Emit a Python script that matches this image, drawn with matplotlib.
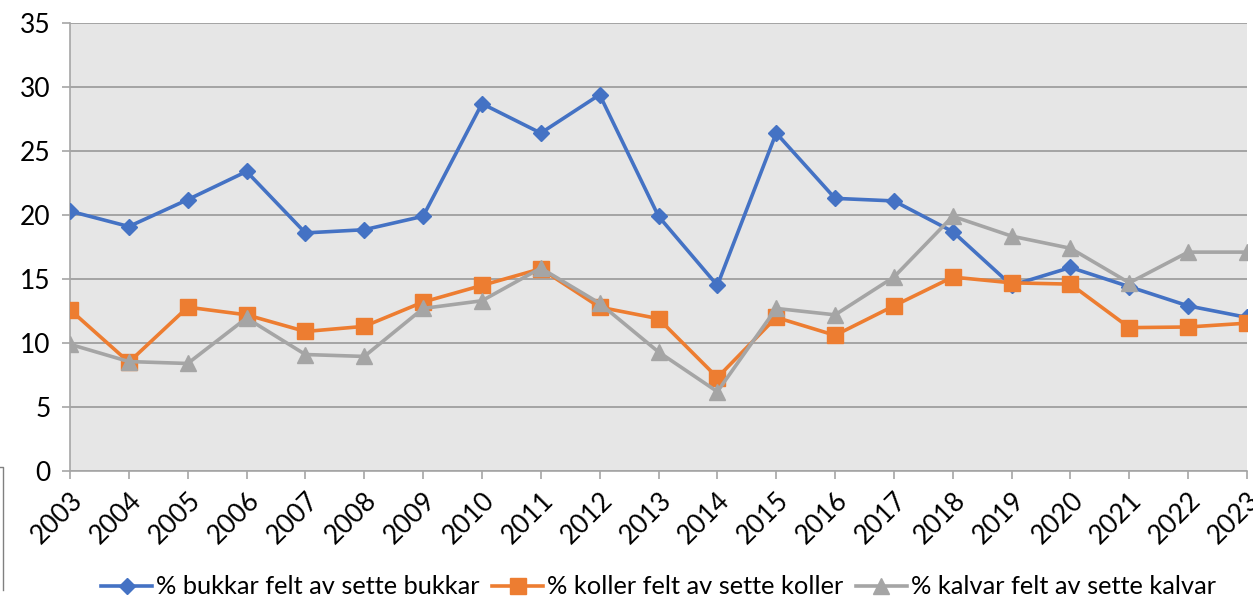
import matplotlib
matplotlib.use("Agg")
import matplotlib.pyplot as plt
from matplotlib.lines import Line2D

years = [str(y) for y in range(2003, 2024)]
bukkar = [20.3, 19.1, 21.2, 23.4, 18.6, 18.85, 19.9, 28.7, 26.4, 29.4, 19.9, 14.5,
          26.4, 21.3, 21.1, 18.7, 14.5, 15.9, 14.4, 12.9, 12.0]
koller = [12.6, 8.5, 12.8, 12.2, 10.9, 11.3, 13.2, 14.5, 15.8, 12.8, 11.9, 7.3,
          12.0, 10.6, 12.9, 15.15, 14.7, 14.6, 11.2, 11.25, 11.55]
kalvar = [9.9, 8.55, 8.4, 11.95, 9.1, 8.95, 12.7, 13.3, 15.85, 13.1, 9.3, 6.2,
          12.7, 12.2, 15.15, 19.9, 18.35, 17.4, 14.7, 17.1, 17.1]
labels = ["% bukkar felt av sette bukkar", "% koller felt av sette koller",
          "% kalvar felt av sette kalvar"]
yticks = [0, 5, 10, 15, 20, 25, 30, 35]

plt.rcParams['font.family'] = ['Lato', 'DejaVu Sans']

fig = plt.figure(figsize=(12.53, 6.02), dpi=100)
ax = fig.add_axes([70/1253, 1-471/602, (1247-70)/1253, (471-23)/602])
ax.set_facecolor('#e6e6e6')

x = list(range(len(years)))
ax.plot(x, bukkar, color='#4472C4', lw=2.6, marker='D', ms=8.5, label=labels[0], zorder=3)
ax.plot(x, koller, color='#ED7D31', lw=2.6, marker='s', ms=12, label=labels[1], zorder=4)
ax.plot(x, kalvar, color='#A5A5A5', lw=2.6, marker='^', ms=12, label=labels[2], zorder=5)

ax.set_xlim(0, len(years)-1)
ax.set_ylim(0, 35)
ax.set_yticks(yticks)
ax.set_yticklabels([str(v) for v in yticks], fontsize=19)
ax.set_xticks(x)
ax.set_xticklabels(years, rotation=45, ha='right', va='top', rotation_mode='anchor', fontsize=19)
ax.yaxis.grid(True, color='#999999', lw=1.2)
ax.set_axisbelow(True)
for s in ['top', 'right']:
    ax.spines[s].set_visible(False)
for s in ['left', 'bottom']:
    ax.spines[s].set_color('#a6a6a6')
    ax.spines[s].set_linewidth(1.2)
ax.tick_params(axis='y', length=6, color='#a6a6a6', width=1.2, pad=8)
ax.tick_params(axis='x', length=6, color='#a6a6a6', width=1.2, pad=6)

leg = ax.legend(loc='center', bbox_to_anchor=(0.5, (1-587/602 - (1-471/602))/((471-23)/602)),
                ncol=3, frameon=False, fontsize=18.3, handlelength=2.0, columnspacing=0.5,
                handletextpad=0.15)

fig.add_artist(Line2D([0, 3/1253, 3/1253], [1-467/602, 1-467/602, 1-590/602],
                      transform=fig.transFigure, color='#808080', lw=1))

fig.savefig('out.png', dpi=100)
